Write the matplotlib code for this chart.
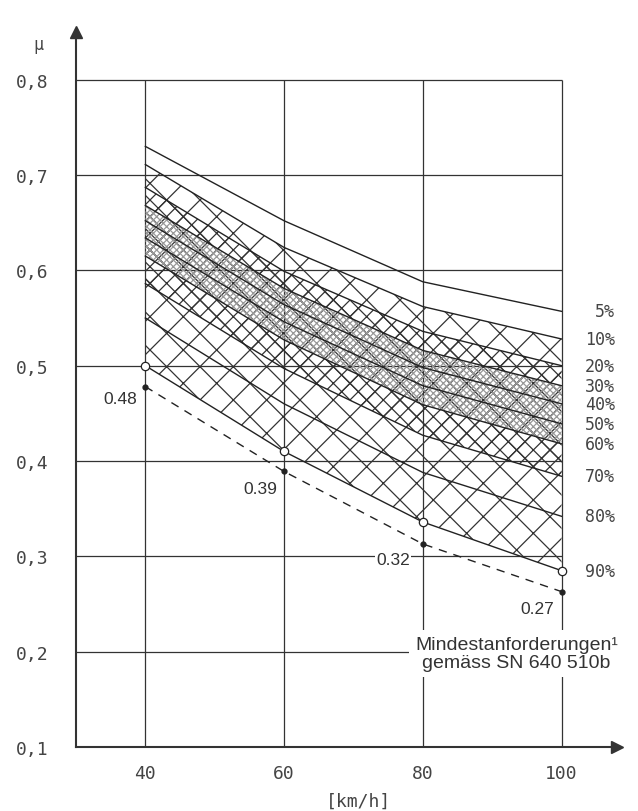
import matplotlib.pyplot as plt

# Griffigkeit mu vs. Geschwindigkeit, Perzentilkurven
speed = [40, 60, 80, 100]
p05 = [0.730, 0.652, 0.588, 0.557]
p10 = [0.711, 0.624, 0.562, 0.528]
p20 = [0.687, 0.599, 0.536, 0.500]
p30 = [0.668, 0.581, 0.516, 0.479]
p40 = [0.652, 0.564, 0.498, 0.460]
p50 = [0.634, 0.546, 0.479, 0.439]
p60 = [0.615, 0.527, 0.459, 0.418]
p70 = [0.586, 0.497, 0.427, 0.384]
p80 = [0.550, 0.460, 0.388, 0.342]
p90 = [0.500, 0.410, 0.336, 0.285]
curves = [p05, p10, p20, p30, p40, p50, p60, p70, p80, p90]
pct_labels = ['5%', '10%', '20%', '30%', '40%', '50%', '60%', '70%', '80%', '90%']

# Mindestanforderungen SN 640 510b
min_mu = [0.478, 0.389, 0.313, 0.263]
min_labels = ['0.48', '0.39', '0.32', '0.27']

yticks = [0.1, 0.2, 0.3, 0.4, 0.5, 0.6, 0.7, 0.8]
ytick_labels = ['0,1', '0,2', '0,3', '0,4', '0,5', '0,6', '0,7', '0,8']

plt.rcParams['hatch.linewidth'] = 0.9
mono = 'DejaVu Sans Mono'
sans = 'Liberation Sans'
ink = '#333333'

fig = plt.figure(figsize=(6.38, 8.12), dpi=100)
ax = fig.add_axes([76 / 638, 64 / 812, 541 / 638, 715 / 812])
ax.set_xlim(30, 108)
ax.set_ylim(0.1, 0.85)

# grid (box up to 0.8 / 100)
ax.vlines(speed, 0.1, 0.8, color=ink, lw=0.9, zorder=1)
ax.hlines(yticks[1:], 30, 100, color=ink, lw=0.9, zorder=1)

# hatched bands
ax.fill_between(speed, p90, p10, facecolor='none', edgecolor=ink, hatch='x', lw=0, zorder=2)
ax.fill_between(speed, p70, p20, facecolor='none', edgecolor=ink, hatch='xx', lw=0, zorder=2)
ax.fill_between(speed, p60, p30, facecolor='none', edgecolor='#999999', hatch='xxxxx', lw=0, zorder=2)

for c, lab in zip(curves, pct_labels):
    ax.plot(speed, c, color='#222222', lw=1.0, zorder=3)
    ax.text(107.7, c[-1], lab, ha='right', va='center', fontsize=12,
            family=mono, color='#444444')

ax.plot(speed, p90, 'o', ms=6, mfc='white', mec='#222222', mew=0.9, zorder=4)

ax.plot(speed, min_mu, color='#222222', lw=1.0, ls=(0, (6, 5)), zorder=3)
ax.plot(speed, min_mu, 'o', ms=3.5, color='#222222', zorder=4)
offs = [(-8, -12), (-7, -17), (-13, -16), (-7, -17)]
for x, y, lab, o in zip(speed, min_mu, min_labels, offs):
    ax.annotate(lab, (x, y), xytext=o, textcoords='offset pixels', ha='right',
                va='center', fontsize=12.5, family=sans, color='#333333',
                bbox=dict(fc='white', ec='none', pad=1), zorder=5)

ax.text(93.5, 0.198, 'Mindestanforderungen\u00b9\ngemäss SN 640 510b', ha='center',
        va='center', fontsize=14, family=sans, color='#333333', linespacing=1.1,
        bbox=dict(fc='white', ec='none', pad=4), zorder=5)

# axes with arrows
for s in ['top', 'right']:
    ax.spines[s].set_visible(False)
for s in ['left', 'bottom']:
    ax.spines[s].set_linewidth(1.5)
    ax.spines[s].set_color('#333333')
ax.plot(30, 0.85, '^', ms=8, color='#333333', clip_on=False, zorder=6)
ax.plot(108, 0.1, '>', ms=8, color='#333333', clip_on=False, zorder=6)

ax.set_yticks(yticks)
ax.set_yticklabels(ytick_labels, family=mono, fontsize=13, color='#444444')
ax.set_xticks(speed)
ax.set_xticklabels([str(s) for s in speed], family=mono, fontsize=13, color='#444444')
ax.tick_params(axis='y', length=0, pad=20)
ax.tick_params(axis='x', length=0, pad=12)

fig.text(38 / 638, 1 - 45 / 812, 'μ', ha='center', va='center', fontsize=12,
         family=mono, color='#444444')
fig.text(359 / 638, 1 - 802 / 812, '[km/h]', ha='center', va='center', fontsize=13,
         family=mono, color='#444444')

fig.savefig('out.png', dpi=100)
